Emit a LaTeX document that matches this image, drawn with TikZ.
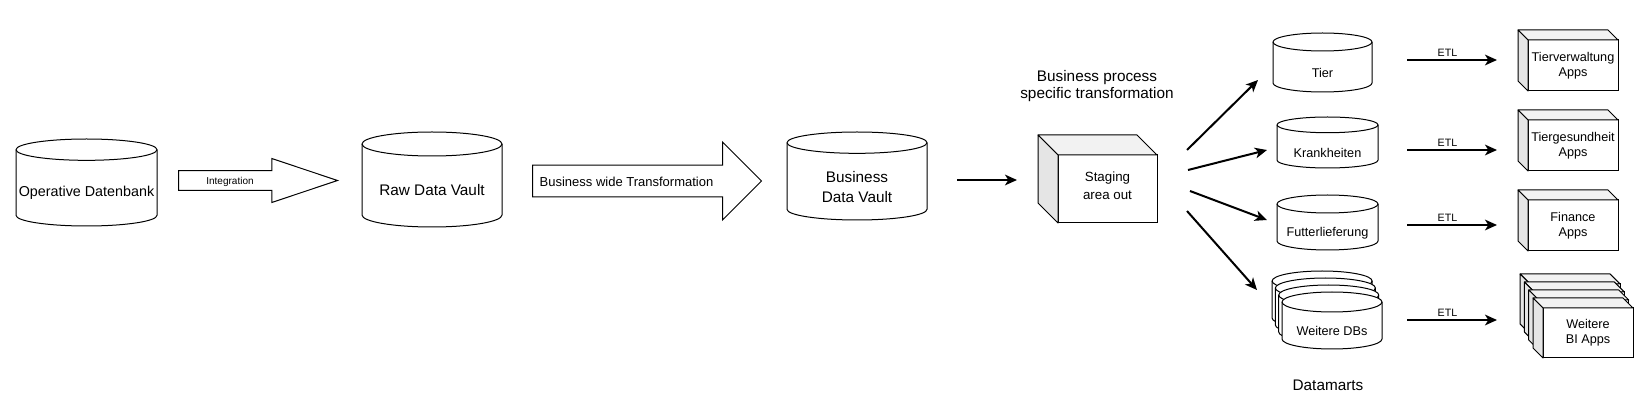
\documentclass[tikz,border=0pt]{standalone}
\usepackage{fontspec}
\setmainfont{Liberation Sans}
\usetikzlibrary{shapes.arrows,arrows.meta}

\definecolor{topgray}{gray}{0.95}
\definecolor{sidegray}{gray}{0.90}

\tikzstyle{db}       = [rectangle, inner sep=0pt, outer sep=0pt]
\tikzstyle{dbtext}   = [font=\fontsize{9.5}{11}\selectfont, align=center]
\tikzstyle{bigtext}  = [font=\fontsize{11.5}{15}\selectfont, align=center]
\tikzstyle{appbox}   = [rectangle, draw, fill=white, line width=0.75pt
                       , minimum width=67.5pt, minimum height=38.25pt
                       , inner sep=0pt, outer sep=0pt, align=center
                       , font=\fontsize{9.5}{11.25}\selectfont]
\tikzstyle{bigarrow} = [single arrow, draw, fill=white, line width=0.75pt
                       , single arrow head indent=0pt, anchor=tail]
\tikzstyle{conn}     = [line width=1.5pt
                       , -{Stealth[length=9pt, width=8pt, inset=2.5pt]}]
\tikzstyle{etl}      = [font=\fontsize{8}{9}\selectfont, above, inner sep=1.5pt, pos=0.45]

% cylinder outline round a db node: node, x radius, y radius
\newcommand{\dbshape}[3]{%
  \filldraw[fill=white, draw=black, line width=0.75pt]
    ([yshift=-#3]#1.north west) -- ([yshift=#3]#1.south west)
    arc[start angle=180, end angle=360, x radius=#2, y radius=#3]
    -- ([yshift=-#3]#1.north east)
    arc[start angle=0, end angle=180, x radius=#2, y radius=#3] -- cycle;
  \draw[line width=0.75pt] ([yshift=-#3]#1.north west)
    arc[start angle=180, end angle=360, x radius=#2, y radius=#3];}

% grey top and left faces of a box node
\newcommand{\cubesides}[2]{%
  \filldraw[fill=topgray, draw=black, line width=0.75pt, line join=round]
    (#1.north west) -- ++(-#2,-#2) -- ([shift={(-#2,-#2)}]#1.north east)
    -- (#1.north east) -- cycle;
  \filldraw[fill=sidegray, draw=black, line width=0.75pt, line join=round]
    (#1.north west) -- ++(-#2,-#2) -- ([shift={(-#2,-#2)}]#1.south west)
    -- (#1.south west) -- cycle;}

\begin{document}
\begin{tikzpicture}[x=0.75pt, y=-0.75pt]
\useasboundingbox (0,0) rectangle (1647,420);

%% Source and vaults
\node [db, minimum width=105.75pt, minimum height=65.25pt] (opdb) at (86.5,182.5) {};
\dbshape{opdb}{52.875pt}{8pt}
\node [bigtext, font=\fontsize{10.75}{13}\selectfont] (opdb-Text) at ([yshift=-8pt]opdb.center) {Operative Datenbank};

\node [db, minimum width=105pt, minimum height=71.25pt] (rawdv) at (432,179.5) {};
\dbshape{rawdv}{52.5pt}{9pt}
\node [bigtext] (rawdv-Text) at ([yshift=-8pt]rawdv.center) {Raw Data Vault};

\node [db, minimum width=105pt, minimum height=66pt] (bizdv) at (857,176) {};
\dbshape{bizdv}{52.5pt}{8pt}
\node [bigtext] (bizdv-Text) at ([yshift=-8pt]bizdv.center) {Business\\Data Vault};

%% Block arrows
\node [bigarrow, minimum height=119.25pt, inner ysep=7.1pt
      , single arrow head extend=9pt, single arrow tip angle=37] (intarrow) at (178,180.5) {};
\node [font=\fontsize{7.5}{9}\selectfont] (intarrow-Text) at (230,182) {Integration};

\node [bigarrow, minimum height=171.75pt, inner ysep=11.6pt
      , single arrow head extend=17.25pt, single arrow tip angle=90] (bizarrow) at (532,181) {};
\node [font=\fontsize{9.75}{11}\selectfont] (bizarrow-Text) at (626.5,182) {Business wide Transformation};

%% Staging area
\node [appbox, minimum width=74.25pt, minimum height=51pt, text depth=5pt
      , font=\fontsize{10}{13.4}\selectfont] (stage) at (1107.5,189) {Staging\\area out};
\cubesides{stage}{20}
\node [bigtext, font=\fontsize{11.5}{12.75}\selectfont] (stage-Title) at (1097,86.5) {Business process\\specific transformation};

\draw [conn] ([shift={(100,4)}]bizdv.center) -- ([shift={(-90.5,-9)}]stage.center);

%% Datamarts
\node [db, minimum width=74.25pt, minimum height=44.25pt] (tier) at (1322.5,62.5) {};
\dbshape{tier}{37.125pt}{6.75pt}
\node [dbtext] (tier-Text) at ([yshift=-8pt]tier.center) {Tier};

\node [db, minimum width=75.75pt, minimum height=38.25pt] (krank) at (1327.5,142.5) {};
\dbshape{krank}{37.875pt}{5.9pt}
\node [dbtext] (krank-Text) at ([yshift=-8pt]krank.center) {Krankheiten};

\node [db, minimum width=75.75pt, minimum height=41.25pt] (futter) at (1327.5,222.5) {};
\dbshape{futter}{37.875pt}{6.75pt}
\node [dbtext] (futter-Text) at ([yshift=-8pt]futter.center) {Futterlieferung};

\foreach \i in {3,2,1} {
  \node [db, minimum width=75pt, minimum height=42.75pt] (moredb-\i) at ({1332-3.3*\i},{320.5-7*\i}) {};
  \dbshape{moredb-\i}{37.5pt}{7.5pt}
}
\node [db, minimum width=75pt, minimum height=42.75pt] (moredb) at (1332,320.5) {};
\dbshape{moredb}{37.5pt}{7.5pt}
\node [dbtext] (moredb-Text) at ([yshift=-8pt]moredb.center) {Weitere DBs};

\node [bigtext] (marts-Title) at (1328,385) {Datamarts};

\draw [conn] ([shift={(30,-39)}]stage.east) -- ([shift={(-64.5,17.5)}]tier.center);
\draw [conn] ([shift={(31,-19)}]stage.east) -- ([shift={(-60.5,7.5)}]krank.center);
\draw [conn] ([shift={(33,2)}]stage.east)   -- ([shift={(-60.5,-2.5)}]futter.center);
\draw [conn] ([shift={(30,22)}]stage.east)  -- ([shift={(-75,-30.5)}]moredb.center);

%% Apps
\node [appbox] (tierapp) at (1573,65.5) {Tierverwaltung\\Apps};
\cubesides{tierapp}{10}
\node [appbox] (healthapp) at (1573,145.5) {Tiergesundheit\\Apps};
\cubesides{healthapp}{10}
\node [appbox] (finapp) at (1573,225.5) {Finance\\Apps};
\cubesides{finapp}{10}

\foreach \i in {3,2,1} {
  \node [appbox, minimum height=37.5pt] (biapp-\i) at ({1588-4.3*\i},{333-8*\i}) {};
  \cubesides{biapp-\i}{10}
}
\node [appbox, minimum height=37.5pt] (biapp) at (1588,333) {Weitere\\BI Apps};
\cubesides{biapp}{10}

%% ETL
\draw [conn] ([shift={(84.5,-2.5)}]tier.center) -- node [etl] {ETL} ([shift={(-76,-5.5)}]tierapp.center);
\draw [conn] ([shift={(79.5,7.5)}]krank.center) -- node [etl] {ETL} ([shift={(-76,4.5)}]healthapp.center);
\draw [conn] ([shift={(79.5,2.5)}]futter.center) -- node [etl] {ETL} ([shift={(-76,-0.5)}]finapp.center);
\draw [conn] ([shift={(75,-0.5)}]moredb.center) -- node [etl] {ETL} ([shift={(-91,-13)}]biapp.center);

\end{tikzpicture}
\end{document}
